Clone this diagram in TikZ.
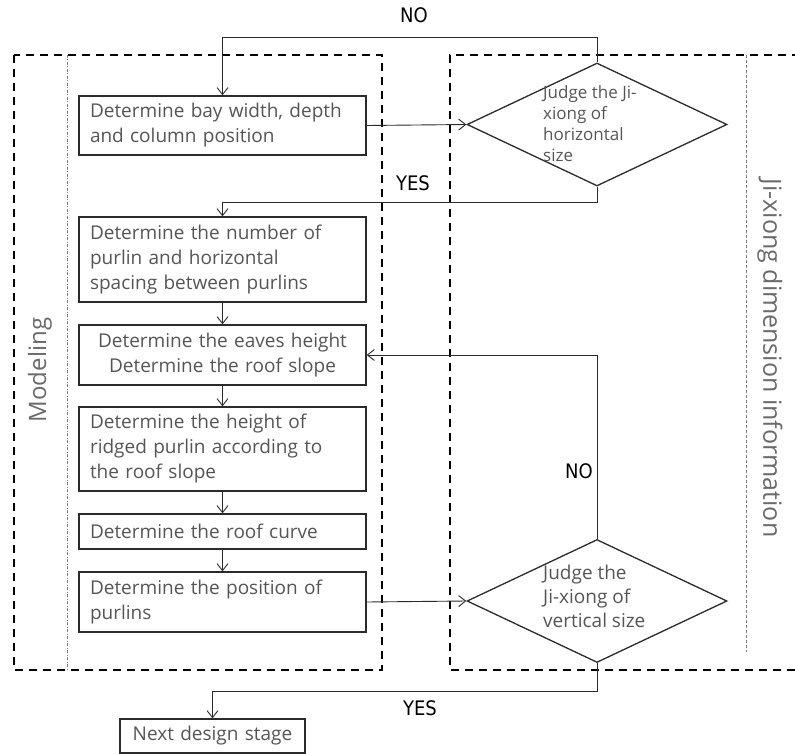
\documentclass[tikz,border=0pt]{standalone}
\usepackage{fontspec}
\setmainfont{Open Sans}
\newfontfamily\labelfont{DejaVu Sans Condensed}
\usepackage{tikz}
\usetikzlibrary{
  positioning,
  arrows.meta,
  shapes.geometric
}
\definecolor{inktext}{HTML}{555555}
\definecolor{inkline}{HTML}{2B2B2B}
\definecolor{sidetext}{HTML}{6A6A6A}

\begin{document}
\begin{tikzpicture}[
  x=1pt, y=-1pt,
  stepbox/.style={draw=inkline, line width=1.4pt, minimum width=287pt, inner xsep=11pt,
                  text width=265pt, align=left, text=inktext, font=\fontsize{19}{25}\selectfont},
  judge/.style={draw=inkline, line width=1.3pt, diamond, minimum width=260pt, minimum height=123pt,
                inner sep=0pt},
  judgetext/.style={align=left, text=inktext, inner sep=0pt},
  answer/.style={font=\labelfont\fontsize{20}{22}\selectfont, text=black},
  arr/.style={-{Straight Barb[length=7pt,width=11pt]}, line width=0.9pt, inkline},
  frame/.style={line width=2pt, dash pattern=on 8pt off 6pt, black},
  divider/.style={line width=0.6pt, gray, dash pattern=on 3pt off 2pt}
]
  \useasboundingbox (0,0) rectangle (795,754);

  % Frames
  \draw[frame] (14,55) rectangle (382,670);
  \draw[frame] (800,55) -- (450,55) -- (450,670) -- (800,670);
  \draw[divider, dash pattern=on 3pt off 1.5pt on 1pt off 1.5pt] (67,55) -- (67,670);
  \draw[divider] (746,55) -- (746,652);

  \node[rotate=90, text=sidetext, font=\fontsize{24}{26}\selectfont] (modeling) at (40,370) {Modeling};
  \node[rotate=-90, text=sidetext, font=\fontsize{25}{27}\selectfont] (jixiong) at (770,358)
    {Ji-xiong dimension information};

  % Steps
  \node[stepbox, minimum height=59pt] (bay) at (222.5,125.5)
    {Determine bay width, depth\\and column position};
  \node[stepbox, minimum height=85pt] (purlin) at (222.5,259.5)
    {Determine the number of\\purlin and horizontal\\spacing between purlins};
  \node[stepbox, minimum height=60pt, align=center] (eaves) at (222.5,355)
    {Determine the eaves height\\Determine the roof slope};
  \node[stepbox, minimum height=84pt] (ridge) at (222.5,449)
    {Determine the height of\\ridged purlin according to\\the roof slope};
  \node[stepbox, minimum height=35pt] (curve) at (222.5,531.5)
    {Determine the roof curve};
  \node[stepbox, minimum height=60pt] (position) at (222.5,602)
    {Determine the position of\\purlins};
  \node[stepbox, minimum width=185pt, text width=163pt, minimum height=34pt, align=center] (next)
    at (212.5,736) {Next design stage};

  % Checks
  \node[judge] (horiz) at (597,124.5) {};
  \node[judgetext, font=\fontsize{17}{21}\selectfont, anchor=north west] (horiztext) at (543,85)
    {Judge the Ji-\\xiong of\\horizontal\\size};
  \node[judge] (vert) at (597,601) {};
  \node[judgetext, font=\fontsize{19}{24}\selectfont, anchor=north west] (verttext) at (543,565)
    {Judge the\\Ji-xiong of\\vertical size};

  % Flow
  \draw[arr] (bay.east) -- (horiz.west);
  \draw[arr] (horiz.north) -- (597,37) -| (bay.north);
  \draw[arr] (horiz.south) -- (597,202) -| (purlin.north);
  \draw[arr] (purlin) -- (eaves);
  \draw[arr] (eaves) -- (ridge);
  \draw[arr] (ridge) -- (curve);
  \draw[arr] (curve) -- (position);
  \draw[arr] (position.east) -- (vert.west);
  \draw[arr] (vert.north) |- (eaves.east);
  \draw[arr] (vert.south) -- (597,691) -| (next.north);

  % Answers
  \node[answer] (no1) at (414,15) {NO};
  \node[answer] (yes1) at (413,183) {YES};
  \node[answer] (no2) at (579,471) {NO};
  \node[answer] (yes2) at (420,708) {YES};
\end{tikzpicture}
\end{document}
